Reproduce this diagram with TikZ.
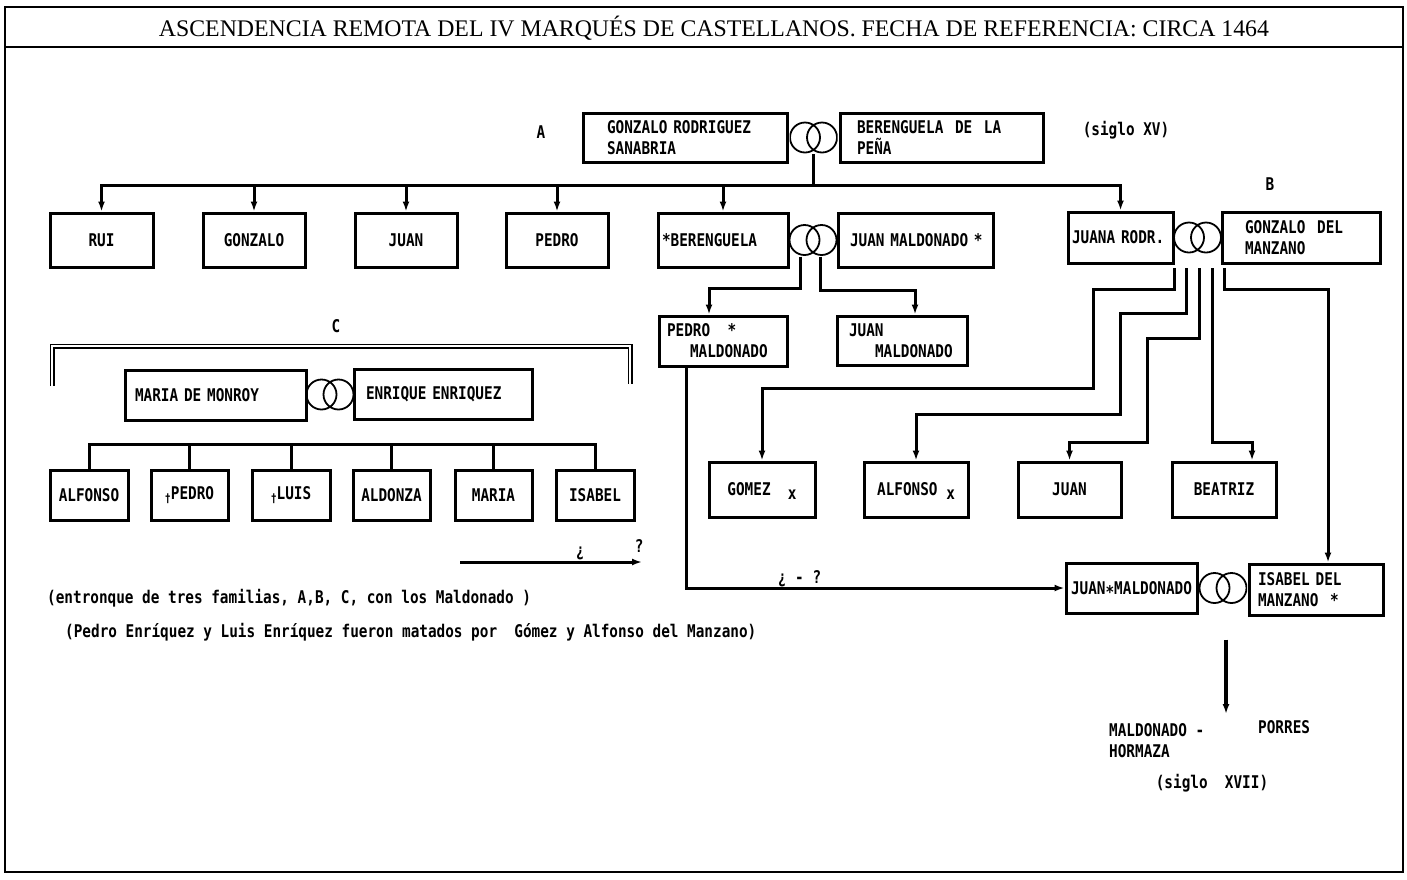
\documentclass[tikz,border=0pt]{standalone}
\usepackage{fontspec}
\setmainfont{Liberation Serif}
\newfontfamily\maquina[FakeStretch=0.82]{DejaVu Sans Mono}
\newcommand\cajafont{\maquina\bfseries\fontsize{17.5}{21}\selectfont}
\newcommand\cruz{\raisebox{-3pt}{\fontsize{12}{12}\selectfont †}}
\usetikzlibrary{arrows.meta}

\begin{document}
\begin{tikzpicture}
    [%%%%%%%%%%%%%%%%%%%%%%%%%%%%%%
        x=1pt, y=-1pt,
        box/.style={rectangle, draw=black, line width=3pt, inner sep=0pt, font=\cajafont},
        lbox/.style={align=left, text width=#1},
        rings/.style={minimum width=48pt, minimum height=33pt, inner sep=0pt,
            path picture={\draw[line width=1.8pt]
                ([xshift=-8.5pt]path picture bounding box.center) circle (15pt)
                ([xshift=8.5pt]path picture bounding box.center) circle (15pt);}},
        conn/.style={line width=3pt},
        arr/.style={conn, -{Latex[length=10pt,width=7pt]}},
        txt/.style={font=\cajafont, inner sep=0pt},
    ]%%%%%%%%%%%%%%%%%%%%%%%%%%%%%%
\useasboundingbox (0,0) rectangle (1407,879);
\fill[white] (0,0) rectangle (1407,879);
\draw[line width=1.6pt] (5,7) rectangle (1403,872);
\draw[line width=1.6pt] (5,47) -- (1403,47);
\node[font=\fontsize{23.8}{28}\selectfont] (titulo) at (714,28)
    {ASCENDENCIA REMOTA DEL IV MARQUÉS DE CASTELLANOS. FECHA DE REFERENCIA: CIRCA 1464};

% familia A
\node[txt] (A) at (541,132) {A};
\node[box, lbox=156pt, minimum width=204pt, minimum height=49pt] (gonzaloR) at (685,137.5) {GONZALO RODRIGUEZ\\SANABRIA};
\node[rings] (ringsA) at (813.5,137.5) {};
\node[box, lbox=169pt, minimum width=203pt, minimum height=49pt] (berenguelaP) at (941.5,137.5) {BERENGUELA\ \ DE\ \ LA\\PEÑA};
\node[txt] (sigloXV) at (1126,130) {(siglo XV)};

\node[box, minimum width=103pt, minimum height=54pt] (rui) at (101.5,240) {RUI};
\node[box, minimum width=102pt, minimum height=54pt] (gonzalo) at (254,240) {GONZALO};
\node[box, minimum width=102pt, minimum height=54pt] (juan) at (406,240) {JUAN};
\node[box, minimum width=102pt, minimum height=54pt] (pedro) at (557,240) {PEDRO};
\node[box, lbox=122pt, minimum width=130pt, minimum height=54pt] (berenguela) at (723,240) {*BERENGUELA};
\node[rings] (ringsB) at (813,240) {};
\node[box, lbox=145pt, minimum width=155pt, minimum height=54pt] (juanM) at (915.5,240) {\hspace*{7pt}JUAN MALDONADO *};
\node[box, lbox=97pt, minimum width=105pt, minimum height=51pt] (juana) at (1120.5,237.5) {JUANA RODR.};
\node[rings] (ringsJ) at (1197.5,237.5) {};
\node[box, lbox=112pt, minimum width=158pt, minimum height=51pt] (gonzaloM) at (1301,237.5) {GONZALO\ \ DEL\\MANZANO};
\node[txt] (B) at (1270,184) {B};

\coordinate (busA) at (813.5,185);
\draw[conn] (ringsA) -- (busA);
\foreach \n in {rui,gonzalo,juan,pedro,berenguela,juana}
    \draw[arr] (busA) -| (\n);

% hijos de Berenguela
\node[box, lbox=112pt, minimum width=128pt, minimum height=50pt] (pedroM) at (723,341) {PEDRO\ \ \ *\\\hspace*{23pt}MALDONADO};
\node[box, lbox=106pt, minimum width=130pt, minimum height=49pt] (juanM2) at (902,340.5) {JUAN\\\hspace*{26pt}MALDONADO};
\draw[arr] ([xshift=-13pt]ringsB.south) -- ++(0,32) -| ([xshift=-14pt]pedroM.north);
\draw[arr] ([xshift=7pt]ringsB.south) -- ++(0,34) -| ([xshift=13pt]juanM2.north);

% familia C
\node[txt] (C) at (336,326) {C};
\draw[line width=1.2pt, double, double distance=2.6pt] (52,386) |- (630,346) -- (630,384);
\node[box, lbox=161pt, minimum width=181pt, minimum height=50pt] (mariaM) at (215.5,395) {MARIA DE MONROY};
\node[rings] (ringsC) at (330,394.5) {};
\node[box, lbox=154pt, minimum width=178pt, minimum height=50pt] (enrique) at (443,394) {ENRIQUE ENRIQUEZ};

\node[box, minimum width=78pt, minimum height=50pt] (alfonso) at (89,495) {ALFONSO};
\node[box, minimum width=77pt, minimum height=50pt] (pedroE) at (189.5,495) {\cruz PEDRO};
\node[box, minimum width=78pt, minimum height=50pt] (luis) at (291,495) {\cruz LUIS};
\node[box, minimum width=77pt, minimum height=50pt] (aldonza) at (391.5,495) {ALDONZA};
\node[box, minimum width=77pt, minimum height=50pt] (mariaC) at (493.5,495) {MARIA};
\node[box, minimum width=78pt, minimum height=50pt] (isabelC) at (595,495) {ISABEL};

\coordinate (busC) at (344,444);
\draw[conn] (alfonso) |- (busC) -| (isabelC);
\foreach \n in {pedroE,luis,aldonza,mariaC}
    \draw[conn] (busC -| \n) -- (\n);

\coordinate (qa) at (460,562);
\coordinate (qb) at (642,562);
\draw[arr] (qa) -- (qb) node[pos=0.66, above=1pt, txt] {¿} node[pos=0.985, above=8pt, txt] {?};

\node[txt, anchor=west] (nota1) at (47,598) {(entronque de tres familias, A,B, C, con los Maldonado )};
\node[txt, anchor=west] (nota2) at (65,632) {(Pedro Enríquez y Luis Enríquez fueron matados por\ \ Gómez y Alfonso del Manzano)};

% familia B
\node[box, minimum width=106pt, minimum height=55pt] (gomez) at (762,489.5) {GOMEZ\ \ \smash{\raisebox{-4pt}{x}}};
\node[box, minimum width=104pt, minimum height=55pt] (alfonsoM) at (916,489.5) {ALFONSO\ \smash{\raisebox{-4pt}{x}}};
\node[box, minimum width=103pt, minimum height=55pt] (juanMz) at (1069.5,489.5) {JUAN};
\node[box, minimum width=104pt, minimum height=55pt] (beatriz) at (1224,489.5) {BEATRIZ};

\node[box, minimum width=131pt, minimum height=50pt] (juanMB) at (1131.5,588) {JUAN\smash{\raisebox{-4pt}{*}}MALDONADO};
\node[rings] (ringsD) at (1223,588) {};
\node[box, lbox=116pt, minimum width=134pt, minimum height=51pt] (isabel) at (1316,589.5) {ISABEL DEL\\MANZANO\ \ *};

\draw[arr] ([shift={(-23.5,14)}]ringsJ.south) -- ++(0,21) -| ++(-81,99) -| (gomez);
\draw[arr] ([shift={(-11.5,14)}]ringsJ.south) -- ++(0,45) -| ++(-66,101) -| (alfonsoM);
\draw[arr] ([shift={(1.5,14)}]ringsJ.south) -- ++(0,70) -| ++(-52,104) -| (juanMz);
\draw[arr] ([shift={(14.5,14)}]ringsJ.south) -- ++(0,174) -| ([xshift=28pt]beatriz.north);
\draw[arr] ([shift={(26.5,14)}]ringsJ.south) -- ++(0,21) -| ([xshift=12pt]isabel.north);

\draw[arr] ([xshift=-37pt]pedroM.south) |- node[pos=0.65, above=0pt, txt] {¿ - ?} (juanMB.west);

% descendencia
\coordinate (linaje) at (1226,714);
\draw[arr, line width=3.4pt] ([shift={(3,35)}]ringsD.south) -- (linaje);
\node[txt, anchor=north west, align=left] (maldonado) at (1109,723) {MALDONADO -\\HORMAZA};
\node[txt, anchor=west] (porres) at (1258,727) {PORRES};
\node[txt] (sigloXVII) at (1212,783) {(siglo\ \ XVII)};
\end{tikzpicture}
\end{document}
